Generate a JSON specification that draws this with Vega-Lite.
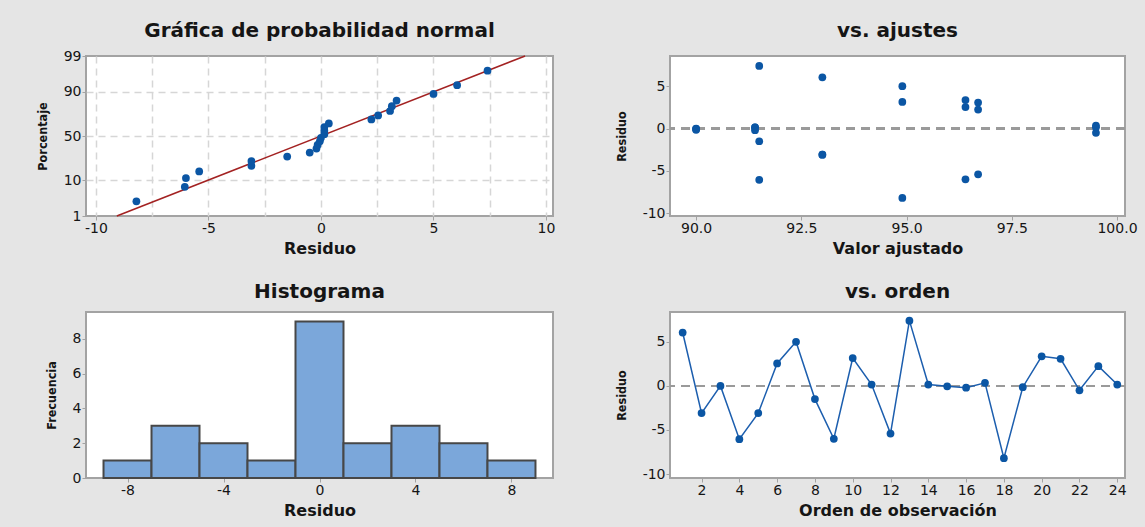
{
  "$schema": "https://vega.github.io/schema/vega-lite/v6.json",
  "autosize": {"type": "none"},
  "padding": {"left": 86, "top": 56, "right": 1059, "bottom": 471},
  "background": "#e5e5e5",
  "bounds": "flush",
  "align": "each",
  "columns": 2,
  "spacing": {"row": 96, "column": 117},
  "datasets": {
    "normal": [
      {"residuo": -8.2, "percentil": 2.9, "z": -1.901},
      {"residuo": -6.05, "percentil": 7.0, "z": -1.478},
      {"residuo": -6.0, "percentil": 11.1, "z": -1.223},
      {"residuo": -5.41, "percentil": 15.2, "z": -1.030},
      {"residuo": -3.09, "percentil": 19.3, "z": -0.868},
      {"residuo": -3.09, "percentil": 23.4, "z": -0.727},
      {"residuo": -1.5, "percentil": 27.5, "z": -0.599},
      {"residuo": -0.5, "percentil": 31.6, "z": -0.480},
      {"residuo": -0.2, "percentil": 35.7, "z": -0.367},
      {"residuo": -0.15, "percentil": 39.8, "z": -0.260},
      {"residuo": -0.05, "percentil": 43.9, "z": -0.155},
      {"residuo": 0.0, "percentil": 48.0, "z": -0.051},
      {"residuo": 0.15, "percentil": 52.0, "z": 0.051},
      {"residuo": 0.15, "percentil": 56.1, "z": 0.155},
      {"residuo": 0.15, "percentil": 60.2, "z": 0.260},
      {"residuo": 0.35, "percentil": 64.3, "z": 0.367},
      {"residuo": 2.24, "percentil": 68.4, "z": 0.480},
      {"residuo": 2.54, "percentil": 72.5, "z": 0.599},
      {"residuo": 3.07, "percentil": 76.6, "z": 0.727},
      {"residuo": 3.15, "percentil": 80.7, "z": 0.868},
      {"residuo": 3.36, "percentil": 84.8, "z": 1.030},
      {"residuo": 5.0, "percentil": 88.9, "z": 1.223},
      {"residuo": 6.05, "percentil": 93.0, "z": 1.478},
      {"residuo": 7.4, "percentil": 97.1, "z": 1.901}
    ],
    "ajuste_normal": [
      {"residuo": -9.07, "percentil": 1, "z": -2.3263},
      {"residuo": 9.07, "percentil": 99, "z": 2.3263}
    ],
    "obs": [
      {"orden": 1, "ajuste": 93.0, "residuo": 6.05},
      {"orden": 2, "ajuste": 93.0, "residuo": -3.09},
      {"orden": 3, "ajuste": 90.0, "residuo": 0.0},
      {"orden": 4, "ajuste": 91.5, "residuo": -6.05},
      {"orden": 5, "ajuste": 93.0, "residuo": -3.09},
      {"orden": 6, "ajuste": 96.4, "residuo": 2.54},
      {"orden": 7, "ajuste": 94.9, "residuo": 5.0},
      {"orden": 8, "ajuste": 91.5, "residuo": -1.5},
      {"orden": 9, "ajuste": 96.4, "residuo": -6.0},
      {"orden": 10, "ajuste": 94.9, "residuo": 3.15},
      {"orden": 11, "ajuste": 91.4, "residuo": 0.15},
      {"orden": 12, "ajuste": 96.7, "residuo": -5.41},
      {"orden": 13, "ajuste": 91.5, "residuo": 7.4},
      {"orden": 14, "ajuste": 91.4, "residuo": 0.15},
      {"orden": 15, "ajuste": 90.0, "residuo": -0.05},
      {"orden": 16, "ajuste": 91.4, "residuo": -0.2},
      {"orden": 17, "ajuste": 99.5, "residuo": 0.35},
      {"orden": 18, "ajuste": 94.9, "residuo": -8.2},
      {"orden": 19, "ajuste": 90.0, "residuo": -0.15},
      {"orden": 20, "ajuste": 96.4, "residuo": 3.36},
      {"orden": 21, "ajuste": 96.7, "residuo": 3.07},
      {"orden": 22, "ajuste": 99.5, "residuo": -0.5},
      {"orden": 23, "ajuste": 96.7, "residuo": 2.24},
      {"orden": 24, "ajuste": 99.5, "residuo": 0.15}
    ],
    "hist": [
      {"desde": -9, "hasta": -7, "frecuencia": 1},
      {"desde": -7, "hasta": -5, "frecuencia": 3},
      {"desde": -5, "hasta": -3, "frecuencia": 2},
      {"desde": -3, "hasta": -1, "frecuencia": 1},
      {"desde": -1, "hasta": 1, "frecuencia": 9},
      {"desde": 1, "hasta": 3, "frecuencia": 2},
      {"desde": 3, "hasta": 5, "frecuencia": 3},
      {"desde": 5, "hasta": 7, "frecuencia": 2},
      {"desde": 7, "hasta": 9, "frecuencia": 1}
    ]
  },
  "config": {
    "view": {"fill": "white", "stroke": "#a3a3a3", "strokeWidth": 2},
    "axis": {
      "domain": false,
      "grid": false,
      "tickColor": "#a3a3a3",
      "tickSize": 4,
      "tickWidth": 1,
      "tickCount": 30,
      "labelFont": "DejaVu Sans",
      "labelFontSize": 14,
      "labelColor": "#151515",
      "labelPadding": 1,
      "titleFont": "DejaVu Sans",
      "titleFontSize": 16,
      "titleFontWeight": "bold",
      "titleColor": "#151515"
    },
    "axisX": {"titlePadding": 5},
    "axisY": {"titleFont": "DejaVu Sans Condensed, Liberation Sans", "titleFontWeight": "bold", "titleFontSize": 12.5, "titlePadding": 14},
    "title": {"font": "DejaVu Sans", "fontSize": 20, "fontWeight": "bold", "color": "#151515", "anchor": "middle", "baseline": "alphabetic"}
  },
  "concat": [
    {
      "width": 467,
      "height": 160,
      "title": {"text": "Gráfica de probabilidad normal", "offset": 8, "frame": "group"},
      "layer": [
        {
          "data": {"name": "ajuste_normal"},
          "mark": {"type": "line", "color": "#a32222", "strokeWidth": 1.6},
          "encoding": {
            "x": {"field": "residuo", "type": "quantitative"},
            "y": {"field": "z", "type": "quantitative"}
          }
        },
        {
          "data": {"name": "normal"},
          "mark": {"type": "circle", "size": 60, "color": "#0b56a4", "opacity": 1},
          "encoding": {
            "x": {
              "field": "residuo", "type": "quantitative",
              "scale": {"domain": [-10.44, 10.31], "nice": false, "zero": false},
              "axis": {
                "title": "Residuo",
                "values": [-10, -7.5, -5, -2.5, 0, 2.5, 5, 7.5, 10],
                "tickCount": 30,
                "labelExpr": "datum.value % 5 === 0 ? '' + datum.value : ''",
                "tickOpacity": {"condition": {"test": "datum.value % 5 !== 0", "value": 0}, "value": 1},
                "grid": true, "gridDash": [7, 5], "gridColor": "#d6d6d6", "gridWidth": 1.5
              }
            },
            "y": {
              "field": "z", "type": "quantitative",
              "scale": {"domain": [-2.3263, 2.3263], "nice": false, "zero": false},
              "axis": {
                "title": "Porcentaje",
                "values": [-2.3263, -1.2816, 0, 1.2816, 2.3263],
                "tickCount": 30,
                "labelExpr": "datum.value < -2 ? '1' : datum.value < -1 ? '10' : datum.value < 1 ? '50' : datum.value < 2 ? '90' : '99'",
                "grid": true, "gridDash": [7, 5], "gridColor": "#d6d6d6", "gridWidth": 1.5,
                "gridOpacity": {"condition": {"test": "abs(datum.value) > 2", "value": 0}, "value": 1}
              }
            }
          }
        }
      ]
    },
    {
      "width": 455,
      "height": 160,
      "title": {"text": "vs. ajustes", "offset": 15, "frame": "group"},
      "data": {"name": "obs"},
      "layer": [
        {
          "mark": {"type": "rule", "color": "#9a9a9a", "strokeWidth": 2, "strokeDash": [9, 6]},
          "encoding": {"y": {"datum": 0}}
        },
        {
          "mark": {"type": "circle", "size": 60, "color": "#0b56a4", "opacity": 1},
          "encoding": {
            "x": {
              "field": "ajuste", "type": "quantitative",
              "scale": {"domain": [89.38, 100.19], "nice": false, "zero": false},
              "axis": {"title": "Valor ajustado", "values": [90, 92.5, 95, 97.5, 100], "tickCount": 30, "format": ".1f"}
            },
            "y": {
              "field": "residuo", "type": "quantitative",
              "scale": {"domain": [-10.33, 8.57], "nice": false, "zero": false},
              "axis": {"title": "Residuo", "values": [-10, -5, 0, 5], "tickCount": 30, "labelExpr": "'' + datum.value"}
            }
          }
        }
      ]
    },
    {
      "width": 467,
      "height": 166,
      "title": {"text": "Histograma", "offset": 10, "frame": "group"},
      "data": {"name": "hist"},
      "mark": {"type": "rect", "fill": "#7ba7da", "stroke": "#474747", "strokeWidth": 2},
      "encoding": {
        "x": {
          "field": "desde", "type": "quantitative",
          "scale": {"domain": [-9.73, 9.73], "nice": false, "zero": false},
          "axis": {"title": "Residuo", "values": [-8, -4, 0, 4, 8], "tickCount": 30, "labelExpr": "'' + datum.value"}
        },
        "x2": {"field": "hasta"},
        "y": {
          "field": "frecuencia", "type": "quantitative",
          "scale": {"domain": [0, 9.55], "nice": false},
          "axis": {"title": "Frecuencia", "values": [0, 2, 4, 6, 8], "tickCount": 30, "labelExpr": "'' + datum.value"}
        },
        "y2": {"datum": 0}
      }
    },
    {
      "width": 455,
      "height": 166,
      "title": {"text": "vs. orden", "offset": 10, "frame": "group"},
      "data": {"name": "obs"},
      "layer": [
        {
          "mark": {"type": "rule", "color": "#9a9a9a", "strokeWidth": 2, "strokeDash": [9, 6]},
          "encoding": {"y": {"datum": 0}}
        },
        {
          "mark": {"type": "line", "color": "#1c5eae", "strokeWidth": 1.5, "point": {"filled": true, "size": 60, "color": "#0b56a4", "opacity": 1}},
          "encoding": {
            "x": {
              "field": "orden", "type": "quantitative",
              "scale": {"domain": [0.33, 24.41], "nice": false, "zero": false},
              "axis": {"title": "Orden de observación", "values": [2, 4, 6, 8, 10, 12, 14, 16, 18, 20, 22, 24], "tickCount": 30}
            },
            "y": {
              "field": "residuo", "type": "quantitative",
              "scale": {"domain": [-10.45, 8.38], "nice": false, "zero": false},
              "axis": {"title": "Residuo", "values": [-10, -5, 0, 5], "tickCount": 30, "labelExpr": "'' + datum.value"}
            }
          }
        }
      ]
    }
  ]
}
